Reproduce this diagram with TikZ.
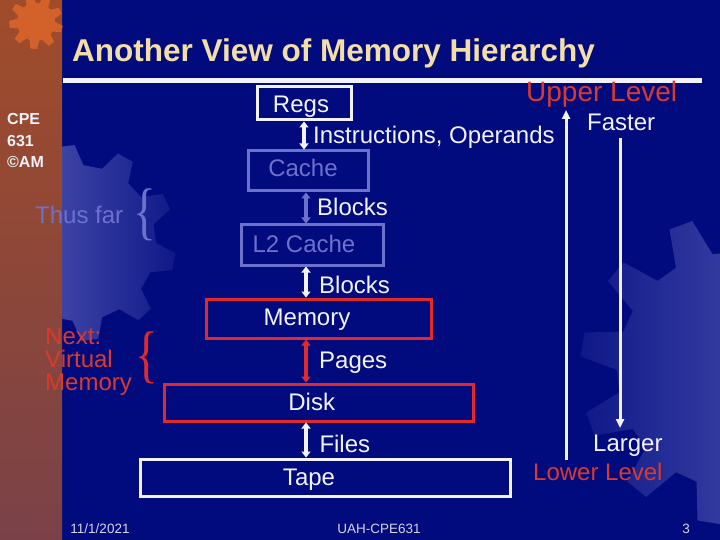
\documentclass[tikz,border=0pt]{standalone}
\usepackage{fontspec}
\setmainfont{Liberation Sans}
\newfontfamily\bracefont{Liberation Serif}
\usetikzlibrary{arrows.meta,positioning,calc}
\definecolor{navy}{HTML}{020B7E}
\definecolor{cream}{HTML}{F2DEA6}
\definecolor{cwhite}{HTML}{F2F2FA}
\definecolor{cred}{HTML}{E22A2E}
\definecolor{tred}{HTML}{DA3A2C}
\definecolor{faint}{HTML}{6C72CC}
\definecolor{gearlt}{HTML}{5C62BC}
\definecolor{foot}{HTML}{D4D4E4}
\definecolor{strip1}{HTML}{A04C2A}
\definecolor{strip2}{HTML}{B4772E}
\definecolor{strip3}{HTML}{7A4248}
\definecolor{gearor}{HTML}{D2622A}
\tikzset{
  >={Triangle[length=6pt,width=9pt]},
  every picture/.style={font=\fontsize{24}{28}\selectfont},
  bx/.style={draw=cwhite,line width=3pt,inner sep=0pt},
  bxf/.style={bx,draw=faint},
  bxr/.style={bx,draw=cred},
  txt/.style={anchor=base,text=cwhite,inner sep=0pt},
  txtl/.style={txt,anchor=base west},
  arr/.style={<->,line width=3.5pt,draw=cwhite},
  arrf/.style={arr,draw=faint},
  arrr/.style={arr,draw=cred},
  lng/.style={->,line width=3pt,draw=cwhite,>={Triangle[length=9pt,width=8pt]}},
  brc/.style={inner sep=0pt,xscale=0.75,font=\bracefont\fontsize{63}{63}\selectfont},
  ftr/.style={anchor=base,text=foot,inner sep=0pt,font=\fontsize{13.5}{16}\selectfont},
}

\begin{document}
\begin{tikzpicture}[x=1pt,y=-1pt]
  \useasboundingbox (0,0) rectangle (720,540);
  \fill[navy] (0,0) rectangle (720,540);
  % gears in the background
  \begin{scope}[shift={(78,243)}]
    \shade[left color=gearlt,right color=navy!85!gearlt] (0:78)
      \foreach \a in {0,36,...,324}{ -- (\a:78) -- ({\a+6}:98) -- ({\a+16}:98) -- ({\a+22}:78) } -- cycle;
  \end{scope}
  \begin{scope}[shift={(735,370)}]
    \shade[left color=navy!85!gearlt,right color=gearlt] (0:118)
      \foreach \a in {0,30,...,330}{ -- (\a:118) -- ({\a+5}:155) -- ({\a+14}:155) -- ({\a+19}:118) } -- cycle;
  \end{scope}
  % left strip
  \shade[top color=strip1,middle color=strip2,bottom color=strip3] (0,0) rectangle (62,540);
  \begin{scope}[shift={(36,22)}]
    \fill[gearor] (0:19)
      \foreach \a in {0,40,...,320}{ -- (\a:19) -- ({\a+8}:27) -- ({\a+22}:27) -- ({\a+30}:19) } -- cycle;
  \end{scope}

  \node[anchor=base west,inner sep=0pt,text=cream,font=\fontsize{31.5}{36}\selectfont\bfseries] (title) at (72,62) {Another View of Memory Hierarchy};
  \draw[cwhite,line width=5pt] (63,80.5) -- (702,80.5);

  % base = last line
  \node[anchor=base west,inner sep=0pt,text=cwhite,align=left,font=\fontsize{16}{21.2}\selectfont\bfseries] (cpe) at (7,167.3) {CPE\\631\\\textcopyright AM};

  % levels
  \node[bx,minimum width=94pt,minimum height=33pt] (regs) at (304,103.5) {};
  \node[bxf,minimum width=120pt,minimum height=40pt] (cache) at (308,171) {};
  \node[bxf,minimum width=142pt,minimum height=40pt] (l2) at (312,245) {};
  \node[bxr,minimum width=225pt,minimum height=39pt] (mem) at (318.5,318.5) {};
  \node[bxr,minimum width=309pt,minimum height=37pt] (disk) at (318.5,402.5) {};
  \node[bx,minimum width=370pt,minimum height=37pt] (tape) at (325,477.5) {};
  \node[txt] (regst) at (301,113) {Regs};
  \node[txt,text=faint] (cachet) at (303,176.7) {Cache};
  \node[txt,text=faint] (l2t) at (304,252.3) {L2 Cache};
  \node[txt] (memt) at (307,325) {Memory};
  \node[txt] (diskt) at (311.7,410.7) {Disk};
  \node[txt] (tapet) at (309,485) {Tape};

  % transfers
  \coordinate (ax) at (306,0);
  \draw[arr] (regs.south) -- (regs.south |- cache.north);
  \draw[arrf] (ax |- cache.south) -- (ax |- l2.north);
  \draw[arr] (ax |- l2.south) -- (ax |- mem.north);
  \draw[arrr] (ax |- mem.south) -- (ax |- disk.north);
  \draw[arr] (ax |- disk.south) -- (ax |- tape.north);
  \node[txtl] (ins) at (313,144) {Instructions, Operands};
  \node[txtl] (blk1) at (317,215) {Blocks};
  \node[txtl] (blk2) at (319,293) {Blocks};
  \node[txtl] (pag) at (319,368) {Pages};
  \node[txtl] (fil) at (319.3,452.3) {Files};

  % levels on the right
  \node[txtl,text=tred,font=\fontsize{28}{32}\selectfont] (up) at (526,101.5) {Upper Level};
  \node[txtl,text=tred] (low) at (533,480) {Lower Level};
  \node[txtl] (fast) at (587,130.7) {Faster};
  \node[txtl] (larg) at (593,451) {Larger};
  \coordinate (upb) at (566,460);
  \coordinate (upt) at (566,110);
  \coordinate (dnt) at (620,138);
  \coordinate (dnb) at (620,428);
  \draw[lng] (upb) -- (upt);
  \draw[lng] (dnt) -- (dnb);

  % left notes
  \node[txtl,text=faint] (thus) at (35,223.3) {Thus far};
  \node[brc,text=faint] (thusb) at (145,215) {\{};
  \node[txtl,text=tred,align=left,font=\fontsize{24}{23}\selectfont] (next) at (45,390) {Next:\\Virtual\\Memory};
  \node[brc,text=cred] (nextb) at (147,357.5) {\{};

  % footer
  \node[ftr] (date) at (100,533) {11/1/2021};
  \node[ftr] (crs) at (379,533) {UAH-CPE631};
  \node[ftr] (pg) at (686,533) {3};
\end{tikzpicture}
\end{document}
